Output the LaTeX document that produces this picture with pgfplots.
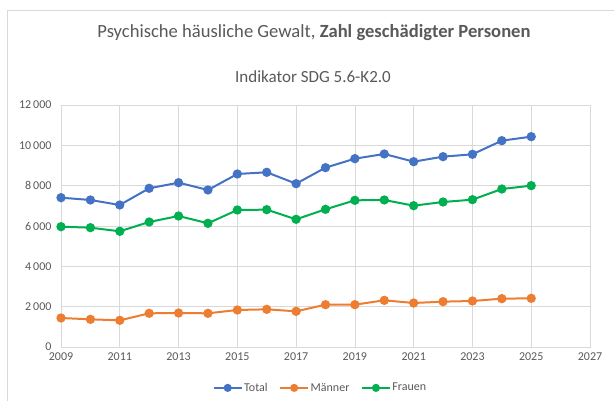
\documentclass[border=0pt]{standalone}
\usepackage{pgfplots}
\pgfplotsset{compat=1.18}
\usepackage{fontspec}
\setmainfont{Carlito}
\definecolor{ctotal}{HTML}{4472C4}
\definecolor{cmen}{HTML}{ED7D31}
\definecolor{cwomen}{HTML}{00B050}
\definecolor{txt}{HTML}{595959}
\definecolor{gridc}{HTML}{D9D9D9}
\begin{document}
\begin{tikzpicture}
\useasboundingbox (0pt,0pt) rectangle (614pt,401pt);
\draw[gridc, line width=0.8pt] (7pt,0pt) -- (7pt,391pt) -- (614pt,391pt);
\node[txt, font=\fontsize{18.6}{21}\selectfont] at (314pt,368pt) {Psychische häusliche Gewalt, \textbf{Zahl geschädigter Personen}};
\node[txt, font=\fontsize{17}{20}\selectfont] at (313pt,324pt) {Indikator SDG 5.6-K2.0};
\begin{axis}[
  at={(61pt,54pt)}, anchor=origin,
  scale only axis, width=529pt, height=242pt,
  xmin=2009, xmax=2027, ymin=0, ymax=12000,
  xtick={2009,2011,...,2027},
  ytick={0,2000,...,12000},
  grid=major,
  major grid style={gridc, line width=0.8pt},
  axis line style={gridc, line width=0.8pt},
  tick style={draw=none},
  ticklabel style={txt, font=\fontsize{12}{14}\selectfont},
  /pgf/number format/assume math mode=true,
  y tick label style={/pgf/number format/1000 sep={\,}, xshift=-6pt},
  x tick label style={/pgf/number format/1000 sep={}, yshift=-2pt},
  scaled y ticks=false,
  legend style={at={(0.49,-0.169)}, anchor=center, draw=none, fill=none,
    font=\fontsize{12}{14}\selectfont, text=txt,
    /tikz/every even column/.append style={column sep=10pt},
    nodes={inner sep=1.5pt}},
  legend columns=3,
  legend image code/.code={\draw[mark repeat=2,mark phase=2,#1, mark size=3pt] plot coordinates {(0pt,0pt) (14pt,0pt) (28pt,0pt)};},
  every axis plot/.append style={line width=2pt, mark=*, mark size=3.6pt},
]
\addplot[ctotal, mark options={fill=ctotal}] coordinates {
(2009,7404)(2010,7290)(2011,7042)(2012,7870)(2013,8148)(2014,7786)(2015,8579)(2016,8663)(2017,8099)
(2018,8893)(2019,9339)(2020,9571)(2021,9190)(2022,9438)(2023,9555)(2024,10231)(2025,10430)};
\addlegendentry{Total}
\addplot[cmen, mark options={fill=cmen}] coordinates {
(2009,1438)(2010,1372)(2011,1322)(2012,1670)(2013,1686)(2014,1670)(2015,1835)(2016,1868)(2017,1769)
(2018,2099)(2019,2099)(2020,2314)(2021,2182)(2022,2248)(2023,2281)(2024,2397)(2025,2413)};
\addlegendentry{Männer}
\addplot[cwomen, mark options={fill=cwomen}] coordinates {
(2009,5966)(2010,5917)(2011,5737)(2012,6199)(2013,6496)(2014,6133)(2015,6794)(2016,6810)(2017,6331)
(2018,6827)(2019,7273)(2020,7290)(2021,7008)(2022,7190)(2023,7306)(2024,7835)(2025,8000)};
\addlegendentry{Frauen}
\end{axis}
\end{tikzpicture}
\end{document}
